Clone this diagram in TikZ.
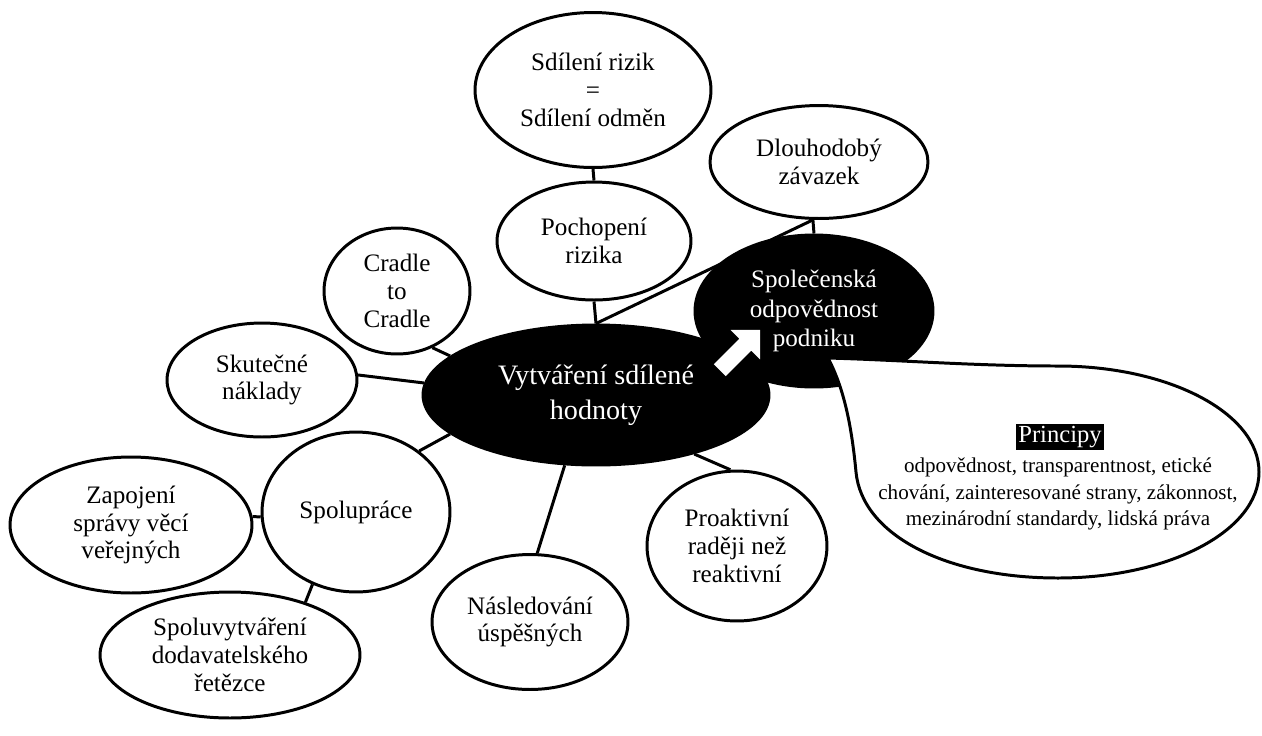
\documentclass[tikz,border=0pt]{standalone}
\usepackage{fontspec}
\setmainfont{Liberation Serif}
\usetikzlibrary{shapes.geometric,shapes.arrows,backgrounds}

\begin{document}
\begin{tikzpicture}[x=0.02cm,y=-0.02cm,
  Bubble/.style={ellipse,draw,line width=1.7pt,fill=white,align=center,inner sep=0pt,
    font=\fontsize{14.3}{15.8}\selectfont},
  BlackBubble/.style={Bubble,fill=black,text=white},
  Link/.style={line width=1.7pt}]
\useasboundingbox (0,0) rectangle (1262,735);
\node[Bubble,minimum width=4.72cm,minimum height=3.1cm] (R) at (593,90) {Sdílení rizik\\=\\Sdílení odměn};
\node[Bubble,minimum width=4.36cm,minimum height=2.26cm] (L) at (819,162) {Dlouhodobý\\závazek};
\node[Bubble,minimum width=3.88cm,minimum height=2.36cm] (U) at (594,241) {Pochopení\\rizika};
\node[Bubble,minimum width=2.92cm,minimum height=2.52cm] (C) at (397,291) {Cradle\\to\\Cradle};
\node[Bubble,minimum width=3.8cm,minimum height=2.28cm] (K) at (262,380) {Skutečné\\náklady};
\node[Bubble,minimum width=3.76cm,minimum height=3.2cm] (S) at (356,512) {Spolupráce};
\node[Bubble,minimum width=4.84cm,minimum height=2.72cm] (Z) at (131,525) {Zapojení\\správy věcí\\veřejných};
\node[Bubble,minimum width=5.2cm,minimum height=2.52cm] (D) at (230,655) {Spoluvytváření\\dodavatelského\\řetězce};
\node[Bubble,minimum width=3.92cm,minimum height=2.7cm] (N) at (530,622) {Následování\\úspěšných};
\node[Bubble,minimum width=3.6cm,minimum height=3cm] (P) at (737,546) {Proaktivní\\raději než\\reaktivní};
\node[BlackBubble,minimum width=4.76cm,minimum height=3.04cm,
  font=\fontsize{14.3}{17}\selectfont] (O) at (814,311) {Společenská\\odpovědnost\\podniku};
\node[BlackBubble,minimum width=6.92cm,minimum height=2.8cm,
  font=\fontsize{16}{19.8}\selectfont] (V) at (596,395) {Vytváření sdílené\\hodnoty};
\coordinate (tip) at (828,358);
\draw[line width=1.7pt,fill=white] (tip) .. controls (900,360) and (975,366) .. (1058,366)
  .. controls (1169,366) and (1259,413) .. (1259,472)
  .. controls (1259,531) and (1169,578) .. (1058,578)
  .. controls (946,578) and (862,535) .. (856,472)
  .. controls (852,430) and (845,390) .. (tip);
\node[fill=black,text=white,inner sep=1.5pt,font=\fontsize{14}{16}\selectfont] (Bt) at (1060,437) {Principy};
\node[align=center,font=\fontsize{12}{15.3}\selectfont] (Bx) at (1058,494)
  {odpovědnost, transparentnost, etické\\chování, zainteresované strany, zákonnost,\\mezinárodní standardy, lidská práva};
\node[single arrow,fill=white,inner sep=0.16cm,minimum height=1.14cm,minimum width=0.82cm,
  single arrow head extend=0.25cm,rotate=45] (A) at (737,353) {};
\begin{scope}[on background layer]
\draw[Link] (R.south) -- (U.north);
\draw[Link] (U.south) -- (V.north);
\draw[Link] (V.north) -- (L.-96);
\draw[Link] (L.-96) -- (O.north);
\draw[Link] (C.-58) -- (V.165);
\draw[Link] (K.3) -- (V.176);
\draw[Link] (V.195) -- (S.44);
\draw[Link] (Z.4) -- (S.183);
\draw[Link] (S.-121) -- (D.35);
\draw[Link] (V.-114) -- (N.84);
\draw[Link] (V.-31) -- (P.95);
\end{scope}
\end{tikzpicture}
\end{document}
